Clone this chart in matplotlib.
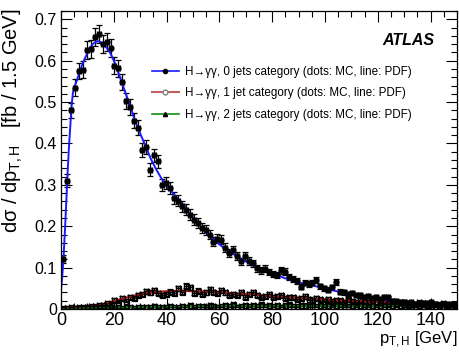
import numpy as np
import matplotlib
matplotlib.use("Agg")
import matplotlib.pyplot as plt
from matplotlib.lines import Line2D
from matplotlib.ticker import MultipleLocator

plt.rcParams['font.family'] = ['Liberation Sans', 'DejaVu Sans']
plt.rcParams['mathtext.fontset'] = 'custom'
plt.rcParams['mathtext.rm'] = 'Liberation Sans'
plt.rcParams['mathtext.it'] = 'Liberation Sans:italic'

# 1.5 GeV bins from 0 to 150 GeV
bin_width = 1.5
bin_centers = np.arange(100) * bin_width + bin_width / 2

# MC points, H->yy 0 jets
mc_0jet = [
    0.120, 0.310, 0.480, 0.535, 0.575, 0.578, 0.625, 0.628, 0.658, 0.665,
    0.640, 0.645, 0.630, 0.588, 0.582, 0.548, 0.503, 0.488, 0.455, 0.438,
    0.385, 0.392, 0.337, 0.371, 0.357, 0.300, 0.304, 0.292, 0.268, 0.262,
    0.248, 0.240, 0.228, 0.216, 0.208, 0.196, 0.191, 0.180, 0.163, 0.170,
    0.167, 0.148, 0.135, 0.143, 0.127, 0.115, 0.127, 0.116, 0.110, 0.099,
    0.094, 0.097, 0.089, 0.085, 0.082, 0.094, 0.090, 0.078, 0.072, 0.068,
    0.054, 0.064, 0.060, 0.064, 0.070, 0.055, 0.050, 0.047, 0.052, 0.066,
    0.042, 0.040, 0.036, 0.038, 0.034, 0.033, 0.030, 0.031, 0.026, 0.030,
    0.025, 0.029, 0.028, 0.019, 0.020, 0.017, 0.018, 0.014, 0.016, 0.013,
    0.012, 0.015, 0.014, 0.017, 0.012, 0.010, 0.013, 0.011, 0.009, 0.012,
]

# MC points, H->yy 1 jet
mc_1jet = [
    0.002, 0.003, 0.004, 0.003, 0.005, 0.004, 0.006, 0.008, 0.007, 0.010,
    0.009, 0.014, 0.012, 0.022, 0.017, 0.026, 0.020, 0.030, 0.027, 0.033,
    0.037, 0.043, 0.040, 0.046, 0.038, 0.034, 0.036, 0.042, 0.038, 0.050,
    0.041, 0.056, 0.052, 0.039, 0.044, 0.036, 0.040, 0.048, 0.041, 0.038,
    0.045, 0.040, 0.033, 0.037, 0.034, 0.040, 0.029, 0.036, 0.041, 0.033,
    0.030, 0.031, 0.036, 0.028, 0.032, 0.034, 0.026, 0.029, 0.030, 0.024,
    0.027, 0.031, 0.025, 0.022, 0.026, 0.023, 0.020, 0.024, 0.019, 0.022,
    0.021, 0.017, 0.023, 0.020, 0.018, 0.022, 0.019, 0.016, 0.021, 0.020,
    0.017, 0.021, 0.015, 0.019, 0.014, 0.016, 0.017, 0.013, 0.015, 0.012,
    0.016, 0.014, 0.011, 0.015, 0.013, 0.012, 0.014, 0.010, 0.013, 0.012,
]

# MC points, H->yy 2 jets
mc_2jet = [
    0.001, 0.002, 0.001, 0.002, 0.002, 0.003, 0.002, 0.003, 0.002, 0.004,
    0.003, 0.002, 0.004, 0.003, 0.005, 0.003, 0.004, 0.006, 0.003, 0.005,
    0.004, 0.006, 0.005, 0.007, 0.004, 0.006, 0.005, 0.008, 0.006, 0.005,
    0.007, 0.006, 0.009, 0.005, 0.007, 0.008, 0.006, 0.010, 0.007, 0.006,
    0.008, 0.009, 0.007, 0.011, 0.006, 0.008, 0.010, 0.007, 0.009, 0.008,
    0.012, 0.007, 0.009, 0.008, 0.010, 0.006, 0.009, 0.011, 0.008, 0.007,
    0.009, 0.010, 0.008, 0.012, 0.007, 0.009, 0.008, 0.010, 0.006, 0.009,
    0.008, 0.011, 0.007, 0.009, 0.008, 0.010, 0.007, 0.008, 0.009, 0.006,
    0.010, 0.008, 0.007, 0.009, 0.008, 0.010, 0.006, 0.009, 0.008, 0.007,
    0.009, 0.008, 0.010, 0.007, 0.008, 0.009, 0.006, 0.008, 0.007, 0.009,
]

# PDF curves
pdf_0jet_x = [0, 0.5, 1, 1.5, 2, 2.5, 3, 3.5, 4, 4.5, 5, 6, 7, 8, 9, 10, 11, 12, 13, 14,
              15, 16, 17, 18, 19, 20, 21, 22, 23, 24, 25, 26, 28, 30, 32, 34, 36, 38, 40,
              42, 44, 46, 48, 50, 52, 55, 58, 61, 64, 67, 70, 73, 76, 80, 85, 90, 95,
              100, 105, 110, 115, 120, 125, 130, 135, 140, 145, 150]
pdf_0jet_y = [0.045, 0.08, 0.13, 0.19, 0.26, 0.33, 0.39, 0.44, 0.49, 0.522, 0.535, 0.552,
              0.572, 0.59, 0.605, 0.618, 0.63, 0.64, 0.645, 0.647, 0.645, 0.64, 0.633,
              0.625, 0.614, 0.600, 0.584, 0.566, 0.548, 0.530, 0.512, 0.494, 0.456, 0.424,
              0.394, 0.363, 0.338, 0.316, 0.298, 0.283, 0.268, 0.252, 0.236, 0.220, 0.205,
              0.185, 0.167, 0.151, 0.138, 0.126, 0.115, 0.105, 0.096, 0.086, 0.074, 0.064,
              0.057, 0.050, 0.042, 0.035, 0.029, 0.024, 0.020, 0.016, 0.014, 0.012, 0.011,
              0.010]

pdf_1jet_x = [0, 5, 10, 15, 20, 25, 30, 35, 40, 45, 50, 55, 60, 65, 70, 75, 80, 85, 90,
              95, 100, 105, 110, 115, 120, 125, 130, 135, 140, 145, 150]
pdf_1jet_y = [0.004, 0.005, 0.007, 0.011, 0.019, 0.028, 0.036, 0.041, 0.043, 0.044, 0.043,
              0.042, 0.040, 0.038, 0.036, 0.034, 0.031, 0.029, 0.027, 0.025, 0.023, 0.021,
              0.020, 0.019, 0.017, 0.016, 0.015, 0.014, 0.013, 0.013, 0.012]

pdf_2jet_x = [0, 10, 20, 30, 40, 50, 60, 70, 80, 90, 100, 110, 120, 130, 140, 150]
pdf_2jet_y = [0.002, 0.003, 0.004, 0.005, 0.006, 0.007, 0.008, 0.008, 0.008, 0.008,
              0.008, 0.008, 0.008, 0.008, 0.008, 0.008]

labels = [
    "H\u2192\u03b3\u03b3, 0 jets category (dots: MC, line: PDF)",
    "H\u2192\u03b3\u03b3, 1 jet category (dots: MC, line: PDF)",
    "H\u2192\u03b3\u03b3, 2 jets category (dots: MC, line: PDF)",
]

# MC statistical error per bin
stat_scale = 0.027

fig = plt.figure(figsize=(4.59, 3.56), dpi=100)
ax = fig.add_axes([61 / 459, 47 / 356, 396 / 459, 298 / 356])

ebar = dict(ecolor='black', elinewidth=0.9, capsize=2.5, capthick=0.9, linestyle='none')

for mc, mk, mfc in [(mc_2jet, 's', 'none'), (mc_1jet, 's', 'none'), (mc_0jet, 'o', 'black')]:
    mc = np.array(mc)
    ax.errorbar(bin_centers, mc, yerr=stat_scale * np.sqrt(mc), xerr=bin_width / 2,
                marker=mk, ms=3.6, mfc=mfc, mec='black', mew=0.9, **ebar)

ax.plot(pdf_2jet_x, pdf_2jet_y, color='#109010', lw=1.5)
ax.plot(pdf_1jet_x, pdf_1jet_y, color='#b01818', lw=1.5)
ax.plot(pdf_0jet_x, pdf_0jet_y, color='#1a1aff', lw=1.4)

ax.set_xlim(0, 150)
ax.set_ylim(0, 0.72)
ax.xaxis.set_major_locator(MultipleLocator(20))
ax.xaxis.set_minor_locator(MultipleLocator(5))
ax.yaxis.set_major_locator(MultipleLocator(0.1))
ax.yaxis.set_minor_locator(MultipleLocator(0.02))
ax.tick_params(which='both', direction='in', top=True, right=True, width=0.8)
ax.tick_params(which='major', length=8, pad=3)
ax.tick_params(which='minor', length=4)
ax.tick_params(axis='x', labelsize=13, pad=2)
ax.tick_params(axis='y', labelsize=11.5)
ax.yaxis.set_major_formatter(plt.FuncFormatter(lambda v, p: "0" if v == 0 else f"{v:.1f}"))
for s in ax.spines.values():
    s.set_linewidth(0.9)

handles = [
    Line2D([], [], color='#1a1aff', lw=1.2, marker='o', ms=3, mfc='black', mec='black'),
    Line2D([], [], color='#c06060', lw=1.5, marker='o', ms=3.5, mfc='white', mec='#808080'),
    Line2D([], [], color='#109010', lw=1.2, marker='^', ms=3, mfc='black', mec='black'),
]
ax.legend(handles, labels, loc='upper left', bbox_to_anchor=(0.215, 0.835), frameon=False,
          fontsize=8.4, handlelength=2.3, handletextpad=0.5, labelspacing=0.8,
          borderpad=0)

ax.text(0.942, 0.9, "ATLAS", transform=ax.transAxes, ha='right', va='center',
        fontsize=11.5, fontweight='bold', fontstyle='italic')

fig.text(13 / 459, 1 - 8 / 356, "d\u03c3 / dp$_{\\mathrm{T,H}}$   [fb / 1.5 GeV]",
         rotation=90, ha='center', va='top', fontsize=14.5)
fig.text(457 / 459, 1 - 340 / 356, "p$_{\\mathrm{T,H}}$ [GeV]", ha='right', va='center',
         fontsize=12)

fig.savefig("out.png", dpi=100)
